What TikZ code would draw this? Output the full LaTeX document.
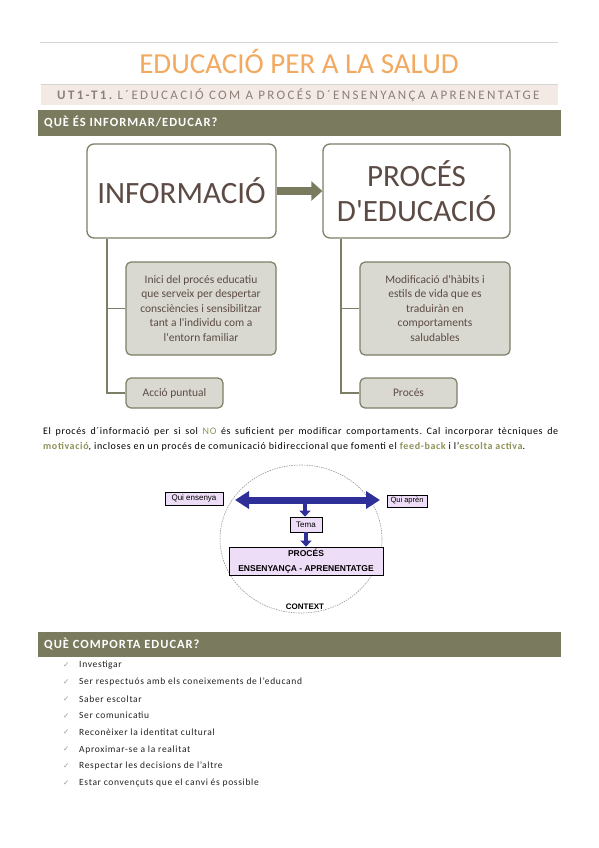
\documentclass[tikz,border=0pt]{standalone}
\usepackage{fontspec}
\setmainfont{Carlito}[Ligatures=TeXOff]
\newfontfamily\arialf{Liberation Sans}
\newfontfamily\djv{DejaVu Sans}
\newfontfamily\spacedf[LetterSpace=18]{Carlito}
\newfontfamily\bandf[LetterSpace=8]{Carlito}
\newfontfamily\parf[LetterSpace=6.5,Ligatures=TeXOff]{Carlito}
\newfontfamily\listf[LetterSpace=7,Ligatures=TeXOff]{Carlito}
\usetikzlibrary{arrows.meta,shadows}
\definecolor{rulegray}{HTML}{D4D4D4}
\definecolor{titleorange}{HTML}{F2A960}
\definecolor{subband}{HTML}{F4EAE5}
\definecolor{subtext}{HTML}{8E7E78}
\definecolor{oliveband}{HTML}{7A7B5E}
\definecolor{boxborder}{HTML}{7D7E66}
\definecolor{boxtext}{HTML}{5C4B44}
\definecolor{graybox}{HTML}{D9D9D1}
\definecolor{hiword}{HTML}{8E9259}
\definecolor{lav}{HTML}{EEDDF7}
\definecolor{navy}{HTML}{2F2F99}
\definecolor{listtext}{HTML}{222222}
\definecolor{checkgray}{HTML}{9A9A9A}
\begin{document}
\frenchspacing
\begin{tikzpicture}[x=1pt,y=-1pt,
  bigbox/.style={draw=boxborder, line width=1.3pt, rounded corners=7pt, fill=white, text=boxtext,
    font=\fontsize{31}{35}\selectfont, align=center, inner sep=0pt},
  smallbox/.style={draw=boxborder, line width=1.2pt, rounded corners=5pt, fill=graybox, text=boxtext,
    font=\fontsize{11.5}{14.5}\selectfont, align=center, inner sep=0pt},
  tree/.style={draw=boxborder, line width=1.3pt},
  bigarrow/.style={draw=oliveband, line width=8pt, -{Triangle[length=11pt,width=19pt]}},
  lavbox/.style={draw=black, line width=0.7pt, fill=lav, inner sep=0pt, font=\arialf\fontsize{8}{9}\selectfont,
    drop shadow={shadow xshift=1.2pt, shadow yshift=-1.2pt, fill=black!55, opacity=1}},
  bluearrow/.style={draw=navy, line width=7pt, {Triangle[length=14pt,width=17pt]}-{Triangle[length=14pt,width=17pt]}},
  downarrow/.style={draw=navy, line width=4pt, -{Triangle[length=6pt,width=11pt]}},
  bandtext/.style={anchor=west, text=white, font=\bandf\bfseries\fontsize{12.5}{14}\selectfont, inner sep=0pt},
  listitem/.style={anchor=west, text=listtext, font=\listf\fontsize{9.5}{11}\selectfont, inner sep=0pt},
  checkmark/.style={anchor=west, text=checkgray, font=\djv\fontsize{7.5}{8}\selectfont, inner sep=0pt}]
\useasboundingbox[fill=white] (0,0) rectangle (599,848);

% header
\draw[rulegray, line width=1pt] (40,42.5) -- (558,42.5);
\node[text=titleorange, font=\fontsize{29}{31}\selectfont, inner sep=0pt] (title) at (299,62) {EDUCACIÓ PER A LA SALUD};
\fill[subband] (40.5,85) rectangle (558,105);
\draw[rulegray, line width=1pt] (40.5,84.5) -- (558,84.5);
\node[anchor=base west, text=subtext, font=\spacedf\fontsize{13}{14}\selectfont, inner sep=0pt] (subtitle) at (57,99.5)
  {{\bfseries UT1-T1.} L´EDUCACIÓ COM A PROCÉS D´ENSENYANÇA APRENENTATGE};
\fill[oliveband] (38,110) rectangle (561,136);
\node[bandtext] (band1) at (44,122.5) {QUÈ ÉS INFORMAR/EDUCAR?};

% concept map
\node[bigbox, minimum width=189pt, minimum height=94pt] (info) at (181.5,191) {INFORMACIÓ};
\node[bigbox, minimum width=187pt, minimum height=94pt] (proc) at (416.5,191) {PROCÉS\\D'EDUCACIÓ};
\draw[bigarrow] (info.east) -- (proc.west);

\node[smallbox, minimum width=150pt, minimum height=93pt] (desc1) at (201,308.5)
  {Inici del procés educatiu\\que serveix per despertar\\consciències i sensibilitzar\\tant a l'individu com a\\l'entorn familiar};
\node[smallbox, minimum width=97pt, minimum height=30pt] (act1) at (174.5,393) {Acció puntual};
\node[smallbox, minimum width=150pt, minimum height=93pt] (desc2) at (435,308.5)
  {Modificació d'hàbits i\\estils de vida que es\\traduiràn en\\comportaments\\saludables};
\node[smallbox, minimum width=97pt, minimum height=30pt] (act2) at (408.5,393) {Procés};

\coordinate (lx) at (107,0);
\coordinate (rx) at (341,0);
\draw[tree] (lx |- info.south) -- (lx |- act1.west) -- (act1.west);
\draw[tree] (lx |- desc1.west) -- (desc1.west);
\draw[tree] (rx |- proc.south) -- (rx |- act2.west) -- (act2.west);
\draw[tree] (rx |- desc2.west) -- (desc2.west);

% paragraph
\node[anchor=base west, inner sep=0pt, font=\parf\fontsize{10}{12}\selectfont] (par1) at (43,434)
  {\makebox[515pt][s]{El procés d´informació per si sol \textcolor{hiword}{NO} és suficient per modificar comportaments. Cal incorporar tècniques de}};
\node[anchor=base west, inner sep=0pt, font=\parf\fontsize{10}{12}\selectfont] (par2) at (43,449)
  {\textcolor{hiword}{\bfseries motivació}, incloses en un procés de comunicació bidireccional que fomenti el \textcolor{hiword}{\bfseries feed-back} i l’\textcolor{hiword}{\bfseries escolta activa}.};

% communication diagram
\draw[gray!80, line width=0.6pt, dash pattern=on 1.5pt off 1pt] (301,539) ellipse [x radius=81pt, y radius=74pt];
\node[lavbox, minimum width=58pt, minimum height=13pt] (qe) at (194,498.5) {Qui ensenya};
\node[lavbox, minimum width=40pt, minimum height=12pt, font=\arialf\fontsize{7.5}{9}\selectfont] (qa) at (407,501) {Qui aprèn};
\coordinate (la) at (235,500);
\coordinate (ra) at (380,500);
\coordinate (mid) at (305,503);
\draw[bluearrow] (la) -- (ra);
\node[lavbox, minimum width=32pt, minimum height=15pt] (tema) at (306,524.5) {Tema};
\node[lavbox, minimum width=154pt, minimum height=28pt, font=\arialf\bfseries\fontsize{8.5}{14.5}\selectfont, align=center] (pea) at (306,561)
  {PROCÉS\\ENSENYANÇA - APRENENTATGE};
\draw[downarrow] (mid) -- (mid |- tema.north);
\draw[downarrow] (tema.south) -- (pea.north);
\node[font=\arialf\bfseries\fontsize{8}{9}\selectfont, inner sep=0pt] (ctx) at (305,607) {CONTEXT};

% second section
\fill[oliveband] (38,632) rectangle (561,657);
\node[bandtext] (band2) at (44,644.5) {QUÈ COMPORTA EDUCAR?};

\foreach \t [count=\i from 0] in {Investigar,
  Ser respectuós amb els coneixements de l’educand,
  Saber escoltar,
  Ser comunicatiu,
  Reconèixer la identitat cultural,
  Aproximar-se a la realitat,
  Respectar les decisions de l’altre,
  Estar convençuts que el canvi és possible}{
  \node[checkmark] (ck\i) at (63,665+16.9*\i) {✓};
  \node[listitem] (li\i) at (79,665+16.9*\i) {\t};
}
\end{tikzpicture}
\end{document}
